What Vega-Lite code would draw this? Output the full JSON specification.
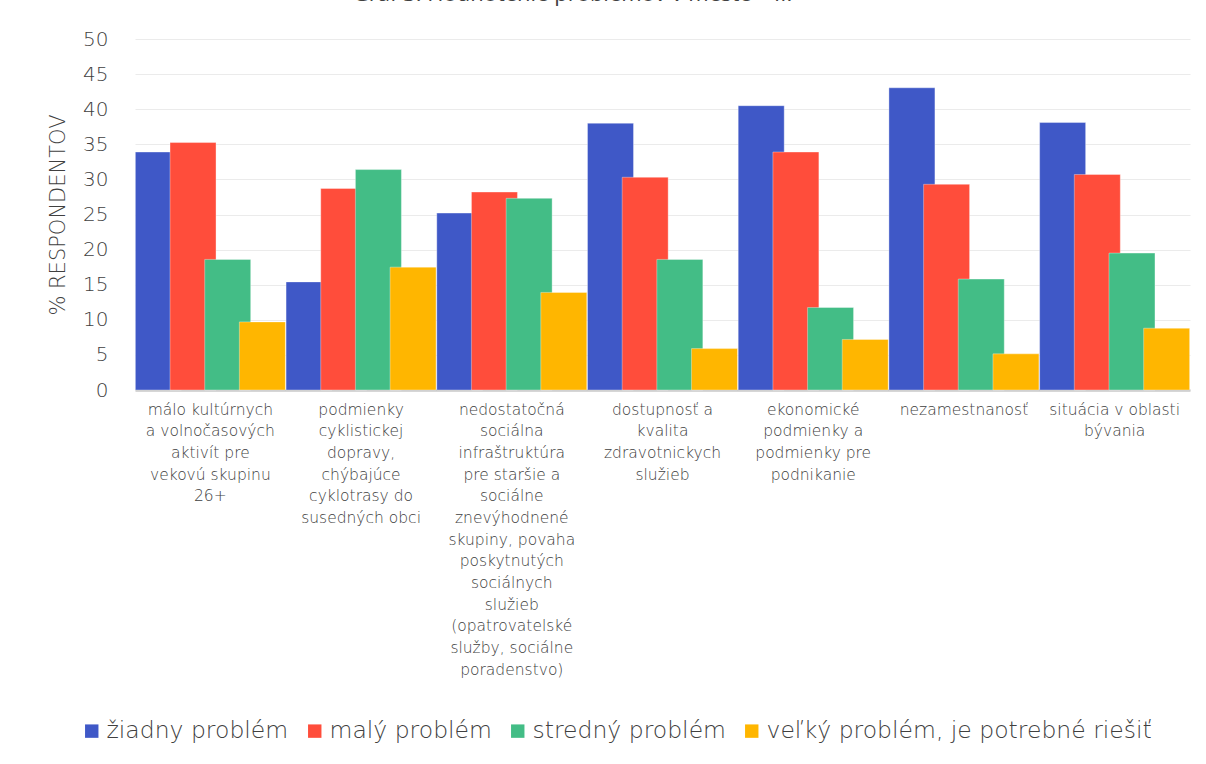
{
  "$schema": "https://vega.github.io/schema/vega-lite/v6.json",
  "width": 1055,
  "height": 351,
  "autosize": "none",
  "padding": {"left": 135, "top": 39, "right": 16, "bottom": 374},
  "background": "white",
  "title": {
    "text": "Graf 3: Hodnotenie problémov v meste – II.",
    "anchor": "middle",
    "dx": -90,
    "offset": 23,
    "fontSize": 22,
    "font": "Open Sans",
    "fontWeight": "normal",
    "color": "#404040"
  },
  "data": {
    "values": [
      {"kat": "málo kultúrnych|a volnočasových|aktivít pre|vekovú skupinu|26+", "typ": "žiadny problém", "hodnota": 33.9},
      {"kat": "málo kultúrnych|a volnočasových|aktivít pre|vekovú skupinu|26+", "typ": "malý problém", "hodnota": 35.25},
      {"kat": "málo kultúrnych|a volnočasových|aktivít pre|vekovú skupinu|26+", "typ": "stredný problém", "hodnota": 18.6},
      {"kat": "málo kultúrnych|a volnočasových|aktivít pre|vekovú skupinu|26+", "typ": "veľký problém, je potrebné riešiť", "hodnota": 9.7},
      {"kat": "podmienky|cyklistickej|dopravy,|chýbajúce|cyklotrasy do|susedných obci", "typ": "žiadny problém", "hodnota": 15.4},
      {"kat": "podmienky|cyklistickej|dopravy,|chýbajúce|cyklotrasy do|susedných obci", "typ": "malý problém", "hodnota": 28.7},
      {"kat": "podmienky|cyklistickej|dopravy,|chýbajúce|cyklotrasy do|susedných obci", "typ": "stredný problém", "hodnota": 31.4},
      {"kat": "podmienky|cyklistickej|dopravy,|chýbajúce|cyklotrasy do|susedných obci", "typ": "veľký problém, je potrebné riešiť", "hodnota": 17.5},
      {"kat": "nedostatočná|sociálna|infraštruktúra|pre staršie a|sociálne|znevýhodnené|skupiny, povaha|poskytnutých|sociálnych|služieb|(opatrovatelské|služby, sociálne|poradenstvo)", "typ": "žiadny problém", "hodnota": 25.2},
      {"kat": "nedostatočná|sociálna|infraštruktúra|pre staršie a|sociálne|znevýhodnené|skupiny, povaha|poskytnutých|sociálnych|služieb|(opatrovatelské|služby, sociálne|poradenstvo)", "typ": "malý problém", "hodnota": 28.2},
      {"kat": "nedostatočná|sociálna|infraštruktúra|pre staršie a|sociálne|znevýhodnené|skupiny, povaha|poskytnutých|sociálnych|služieb|(opatrovatelské|služby, sociálne|poradenstvo)", "typ": "stredný problém", "hodnota": 27.3},
      {"kat": "nedostatočná|sociálna|infraštruktúra|pre staršie a|sociálne|znevýhodnené|skupiny, povaha|poskytnutých|sociálnych|služieb|(opatrovatelské|služby, sociálne|poradenstvo)", "typ": "veľký problém, je potrebné riešiť", "hodnota": 13.9},
      {"kat": "dostupnosť a|kvalita|zdravotnickych|služieb", "typ": "žiadny problém", "hodnota": 38.0},
      {"kat": "dostupnosť a|kvalita|zdravotnickych|služieb", "typ": "malý problém", "hodnota": 30.3},
      {"kat": "dostupnosť a|kvalita|zdravotnickych|služieb", "typ": "stredný problém", "hodnota": 18.6},
      {"kat": "dostupnosť a|kvalita|zdravotnickych|služieb", "typ": "veľký problém, je potrebné riešiť", "hodnota": 5.9},
      {"kat": "ekonomické|podmienky a|podmienky pre|podnikanie", "typ": "žiadny problém", "hodnota": 40.5},
      {"kat": "ekonomické|podmienky a|podmienky pre|podnikanie", "typ": "malý problém", "hodnota": 33.9},
      {"kat": "ekonomické|podmienky a|podmienky pre|podnikanie", "typ": "stredný problém", "hodnota": 11.75},
      {"kat": "ekonomické|podmienky a|podmienky pre|podnikanie", "typ": "veľký problém, je potrebné riešiť", "hodnota": 7.2},
      {"kat": "nezamestnanosť", "typ": "žiadny problém", "hodnota": 43.05},
      {"kat": "nezamestnanosť", "typ": "malý problém", "hodnota": 29.3},
      {"kat": "nezamestnanosť", "typ": "stredný problém", "hodnota": 15.8},
      {"kat": "nezamestnanosť", "typ": "veľký problém, je potrebné riešiť", "hodnota": 5.15},
      {"kat": "situácia v oblasti|bývania", "typ": "žiadny problém", "hodnota": 38.1},
      {"kat": "situácia v oblasti|bývania", "typ": "malý problém", "hodnota": 30.7},
      {"kat": "situácia v oblasti|bývania", "typ": "stredný problém", "hodnota": 19.5},
      {"kat": "situácia v oblasti|bývania", "typ": "veľký problém, je potrebné riešiť", "hodnota": 8.8}
    ]
  },
  "mark": {"type": "bar", "size": 46, "stroke": "white", "strokeOpacity": 0.35, "strokeWidth": 1},
  "encoding": {
    "x": {
      "field": "kat",
      "type": "nominal",
      "sort": null,
      "scale": {"paddingInner": 0, "paddingOuter": 0},
      "axis": {
        "title": null,
        "labelExpr": "split(datum.label, '|')",
        "labelAngle": 0,
        "labelFont": "DejaVu Sans",
        "labelFontWeight": 200,
        "labelFontSize": 15.5,
        "labelLineHeight": 21.7,
        "labelColor": "#404040",
        "labelPadding": 12,
        "labelLimit": 200,
        "labelBaseline": "top",
        "ticks": false,
        "domainColor": "#c8c8c8",
        "domainWidth": 2.5,
        "grid": false
      }
    },
    "xOffset": {
      "field": "typ",
      "type": "nominal",
      "sort": ["žiadny problém", "malý problém", "stredný problém", "veľký problém, je potrebné riešiť"],
      "scale": {"paddingInner": 0, "paddingOuter": 0.1735}
    },
    "y": {
      "field": "hodnota",
      "type": "quantitative",
      "scale": {"domain": [0, 50], "nice": false},
      "axis": {
        "title": "% RESPONDENTOV",
        "titleFont": "DejaVu Sans",
        "titleFontSize": 21,
        "titleFontWeight": 200,
        "titleColor": "#404040",
        "titlePadding": 14,
        "values": [0, 5, 10, 15, 20, 25, 30, 35, 40, 45, 50],
        "labelFont": "DejaVu Sans",
        "labelFontWeight": 200,
        "labelFontSize": 20,
        "labelColor": "#404040",
        "labelPadding": 27,
        "ticks": false,
        "domain": false,
        "gridColor": "#ebebeb",
        "gridWidth": 1
      }
    },
    "color": {
      "field": "typ",
      "type": "nominal",
      "sort": ["žiadny problém", "malý problém", "stredný problém", "veľký problém, je potrebné riešiť"],
      "scale": {
        "domain": ["žiadny problém", "malý problém", "stredný problém", "veľký problém, je potrebné riešiť"],
        "range": ["#3F58C7", "#FF4D3B", "#43BD86", "#FFB600"]
      },
      "legend": {
        "title": null,
        "orient": "none",
        "direction": "horizontal",
        "legendX": -55,
        "legendY": 680,
        "symbolType": "square",
        "symbolSize": 180,
        "symbolStrokeWidth": 0,
        "symbolOpacity": 1,
        "labelFont": "DejaVu Sans",
        "labelFontWeight": 200,
        "labelFontSize": 23.5,
        "labelColor": "#404040",
        "labelLimit": 500,
        "labelOffset": 3,
        "columnPadding": 14
      }
    }
  },
  "config": {
    "view": {"stroke": null}
  }
}
